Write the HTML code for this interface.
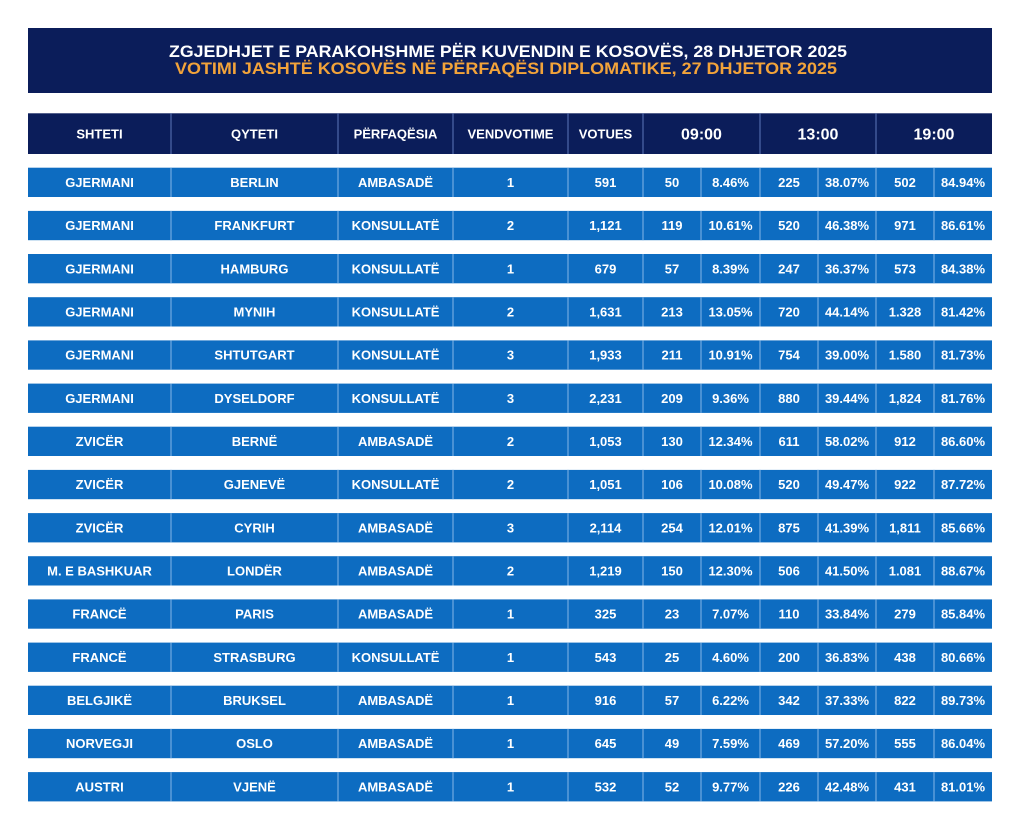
<!DOCTYPE html>
<html><head><meta charset="utf-8"><style>
html,body{margin:0;padding:0;background:#fff;}
svg{display:block;}
text{font-family:"Liberation Sans",Arial,sans-serif;font-weight:bold;fill:#fff;text-anchor:middle;}
.b{font-size:13px;}
.h{font-size:13px;}
.t{font-size:16px;}
</style></head><body>
<svg width="1024" height="832" viewBox="0 0 1024 832" xmlns="http://www.w3.org/2000/svg">
<defs>
<g id="dv" stroke="#6aa6de" stroke-width="1.3">
<line x1="171" y1="0" x2="171" y2="29.3"/><line x1="338" y1="0" x2="338" y2="29.3"/><line x1="453" y1="0" x2="453" y2="29.3"/><line x1="568" y1="0" x2="568" y2="29.3"/><line x1="643" y1="0" x2="643" y2="29.3"/><line x1="701" y1="0" x2="701" y2="29.3"/><line x1="760" y1="0" x2="760" y2="29.3"/><line x1="818" y1="0" x2="818" y2="29.3"/><line x1="876" y1="0" x2="876" y2="29.3"/><line x1="934" y1="0" x2="934" y2="29.3"/>
</g>
<rect id="rb" x="28" y="0" width="964" height="29.3" fill="#0d6cc1"/>
</defs>
<rect width="1024" height="832" fill="#fff"/>
<rect x="28" y="28" width="964" height="65" fill="#0b1d5a"/>
<text x="508" y="57" style="font-size:16.5px" textLength="678" lengthAdjust="spacingAndGlyphs">ZGJEDHJET E PARAKOHSHME PËR KUVENDIN E KOSOVËS, 28 DHJETOR 2025</text>
<text x="506" y="74" style="font-size:16.5px;fill:#f2a33a" textLength="662" lengthAdjust="spacingAndGlyphs">VOTIMI JASHTË KOSOVËS NË PËRFAQËSI DIPLOMATIKE, 27 DHJETOR 2025</text>

<rect x="28" y="113.3" width="964" height="40.7" fill="#0b1d5a"/>
<g stroke="#4a62a3" stroke-width="1.3">
<line x1="171" y1="113.3" x2="171" y2="154"/><line x1="338" y1="113.3" x2="338" y2="154"/><line x1="453" y1="113.3" x2="453" y2="154"/><line x1="568" y1="113.3" x2="568" y2="154"/><line x1="643" y1="113.3" x2="643" y2="154"/><line x1="760" y1="113.3" x2="760" y2="154"/><line x1="876" y1="113.3" x2="876" y2="154"/>
</g>
<text class="h" x="99.5" y="138.3">SHTETI</text>
<text class="h" x="254.5" y="138.3">QYTETI</text>
<text class="h" x="395.5" y="138.3">PËRFAQËSIA</text>
<text class="h" x="510.5" y="138.3">VENDVOTIME</text>
<text class="h" x="605.5" y="138.3">VOTUES</text>
<text class="t" x="701.5" y="139.3">09:00</text>
<text class="t" x="818" y="139.3">13:00</text>
<text class="t" x="934" y="139.3">19:00</text>

<g transform="translate(0,167.7)"><use href="#rb"/><use href="#dv"/>
<text class="b" x="99.5" y="19.3">GJERMANI</text><text class="b" x="254.5" y="19.3">BERLIN</text><text class="b" x="395.5" y="19.3">AMBASADË</text><text class="b" x="510.5" y="19.3">1</text><text class="b" x="605.5" y="19.3">591</text><text class="b" x="672" y="19.3">50</text><text class="b" x="730.5" y="19.3">8.46%</text><text class="b" x="789" y="19.3">225</text><text class="b" x="847" y="19.3">38.07%</text><text class="b" x="905" y="19.3">502</text><text class="b" x="963" y="19.3">84.94%</text></g>

<g transform="translate(0,210.9)"><use href="#rb"/><use href="#dv"/>
<text class="b" x="99.5" y="19.3">GJERMANI</text><text class="b" x="254.5" y="19.3">FRANKFURT</text><text class="b" x="395.5" y="19.3">KONSULLATË</text><text class="b" x="510.5" y="19.3">2</text><text class="b" x="605.5" y="19.3">1,121</text><text class="b" x="672" y="19.3">119</text><text class="b" x="730.5" y="19.3">10.61%</text><text class="b" x="789" y="19.3">520</text><text class="b" x="847" y="19.3">46.38%</text><text class="b" x="905" y="19.3">971</text><text class="b" x="963" y="19.3">86.61%</text></g>

<g transform="translate(0,254.0)"><use href="#rb"/><use href="#dv"/>
<text class="b" x="99.5" y="19.3">GJERMANI</text><text class="b" x="254.5" y="19.3">HAMBURG</text><text class="b" x="395.5" y="19.3">KONSULLATË</text><text class="b" x="510.5" y="19.3">1</text><text class="b" x="605.5" y="19.3">679</text><text class="b" x="672" y="19.3">57</text><text class="b" x="730.5" y="19.3">8.39%</text><text class="b" x="789" y="19.3">247</text><text class="b" x="847" y="19.3">36.37%</text><text class="b" x="905" y="19.3">573</text><text class="b" x="963" y="19.3">84.38%</text></g>

<g transform="translate(0,297.2)"><use href="#rb"/><use href="#dv"/>
<text class="b" x="99.5" y="19.3">GJERMANI</text><text class="b" x="254.5" y="19.3">MYNIH</text><text class="b" x="395.5" y="19.3">KONSULLATË</text><text class="b" x="510.5" y="19.3">2</text><text class="b" x="605.5" y="19.3">1,631</text><text class="b" x="672" y="19.3">213</text><text class="b" x="730.5" y="19.3">13.05%</text><text class="b" x="789" y="19.3">720</text><text class="b" x="847" y="19.3">44.14%</text><text class="b" x="905" y="19.3">1.328</text><text class="b" x="963" y="19.3">81.42%</text></g>

<g transform="translate(0,340.4)"><use href="#rb"/><use href="#dv"/>
<text class="b" x="99.5" y="19.3">GJERMANI</text><text class="b" x="254.5" y="19.3">SHTUTGART</text><text class="b" x="395.5" y="19.3">KONSULLATË</text><text class="b" x="510.5" y="19.3">3</text><text class="b" x="605.5" y="19.3">1,933</text><text class="b" x="672" y="19.3">211</text><text class="b" x="730.5" y="19.3">10.91%</text><text class="b" x="789" y="19.3">754</text><text class="b" x="847" y="19.3">39.00%</text><text class="b" x="905" y="19.3">1.580</text><text class="b" x="963" y="19.3">81.73%</text></g>

<g transform="translate(0,383.6)"><use href="#rb"/><use href="#dv"/>
<text class="b" x="99.5" y="19.3">GJERMANI</text><text class="b" x="254.5" y="19.3">DYSELDORF</text><text class="b" x="395.5" y="19.3">KONSULLATË</text><text class="b" x="510.5" y="19.3">3</text><text class="b" x="605.5" y="19.3">2,231</text><text class="b" x="672" y="19.3">209</text><text class="b" x="730.5" y="19.3">9.36%</text><text class="b" x="789" y="19.3">880</text><text class="b" x="847" y="19.3">39.44%</text><text class="b" x="905" y="19.3">1,824</text><text class="b" x="963" y="19.3">81.76%</text></g>

<g transform="translate(0,426.7)"><use href="#rb"/><use href="#dv"/>
<text class="b" x="99.5" y="19.3">ZVICËR</text><text class="b" x="254.5" y="19.3">BERNË</text><text class="b" x="395.5" y="19.3">AMBASADË</text><text class="b" x="510.5" y="19.3">2</text><text class="b" x="605.5" y="19.3">1,053</text><text class="b" x="672" y="19.3">130</text><text class="b" x="730.5" y="19.3">12.34%</text><text class="b" x="789" y="19.3">611</text><text class="b" x="847" y="19.3">58.02%</text><text class="b" x="905" y="19.3">912</text><text class="b" x="963" y="19.3">86.60%</text></g>

<g transform="translate(0,469.9)"><use href="#rb"/><use href="#dv"/>
<text class="b" x="99.5" y="19.3">ZVICËR</text><text class="b" x="254.5" y="19.3">GJENEVË</text><text class="b" x="395.5" y="19.3">KONSULLATË</text><text class="b" x="510.5" y="19.3">2</text><text class="b" x="605.5" y="19.3">1,051</text><text class="b" x="672" y="19.3">106</text><text class="b" x="730.5" y="19.3">10.08%</text><text class="b" x="789" y="19.3">520</text><text class="b" x="847" y="19.3">49.47%</text><text class="b" x="905" y="19.3">922</text><text class="b" x="963" y="19.3">87.72%</text></g>

<g transform="translate(0,513.1)"><use href="#rb"/><use href="#dv"/>
<text class="b" x="99.5" y="19.3">ZVICËR</text><text class="b" x="254.5" y="19.3">CYRIH</text><text class="b" x="395.5" y="19.3">AMBASADË</text><text class="b" x="510.5" y="19.3">3</text><text class="b" x="605.5" y="19.3">2,114</text><text class="b" x="672" y="19.3">254</text><text class="b" x="730.5" y="19.3">12.01%</text><text class="b" x="789" y="19.3">875</text><text class="b" x="847" y="19.3">41.39%</text><text class="b" x="905" y="19.3">1,811</text><text class="b" x="963" y="19.3">85.66%</text></g>

<g transform="translate(0,556.2)"><use href="#rb"/><use href="#dv"/>
<text class="b" x="99.5" y="19.3">M. E BASHKUAR</text><text class="b" x="254.5" y="19.3">LONDËR</text><text class="b" x="395.5" y="19.3">AMBASADË</text><text class="b" x="510.5" y="19.3">2</text><text class="b" x="605.5" y="19.3">1,219</text><text class="b" x="672" y="19.3">150</text><text class="b" x="730.5" y="19.3">12.30%</text><text class="b" x="789" y="19.3">506</text><text class="b" x="847" y="19.3">41.50%</text><text class="b" x="905" y="19.3">1.081</text><text class="b" x="963" y="19.3">88.67%</text></g>

<g transform="translate(0,599.4)"><use href="#rb"/><use href="#dv"/>
<text class="b" x="99.5" y="19.3">FRANCË</text><text class="b" x="254.5" y="19.3">PARIS</text><text class="b" x="395.5" y="19.3">AMBASADË</text><text class="b" x="510.5" y="19.3">1</text><text class="b" x="605.5" y="19.3">325</text><text class="b" x="672" y="19.3">23</text><text class="b" x="730.5" y="19.3">7.07%</text><text class="b" x="789" y="19.3">110</text><text class="b" x="847" y="19.3">33.84%</text><text class="b" x="905" y="19.3">279</text><text class="b" x="963" y="19.3">85.84%</text></g>

<g transform="translate(0,642.6)"><use href="#rb"/><use href="#dv"/>
<text class="b" x="99.5" y="19.3">FRANCË</text><text class="b" x="254.5" y="19.3">STRASBURG</text><text class="b" x="395.5" y="19.3">KONSULLATË</text><text class="b" x="510.5" y="19.3">1</text><text class="b" x="605.5" y="19.3">543</text><text class="b" x="672" y="19.3">25</text><text class="b" x="730.5" y="19.3">4.60%</text><text class="b" x="789" y="19.3">200</text><text class="b" x="847" y="19.3">36.83%</text><text class="b" x="905" y="19.3">438</text><text class="b" x="963" y="19.3">80.66%</text></g>

<g transform="translate(0,685.7)"><use href="#rb"/><use href="#dv"/>
<text class="b" x="99.5" y="19.3">BELGJIKË</text><text class="b" x="254.5" y="19.3">BRUKSEL</text><text class="b" x="395.5" y="19.3">AMBASADË</text><text class="b" x="510.5" y="19.3">1</text><text class="b" x="605.5" y="19.3">916</text><text class="b" x="672" y="19.3">57</text><text class="b" x="730.5" y="19.3">6.22%</text><text class="b" x="789" y="19.3">342</text><text class="b" x="847" y="19.3">37.33%</text><text class="b" x="905" y="19.3">822</text><text class="b" x="963" y="19.3">89.73%</text></g>

<g transform="translate(0,728.9)"><use href="#rb"/><use href="#dv"/>
<text class="b" x="99.5" y="19.3">NORVEGJI</text><text class="b" x="254.5" y="19.3">OSLO</text><text class="b" x="395.5" y="19.3">AMBASADË</text><text class="b" x="510.5" y="19.3">1</text><text class="b" x="605.5" y="19.3">645</text><text class="b" x="672" y="19.3">49</text><text class="b" x="730.5" y="19.3">7.59%</text><text class="b" x="789" y="19.3">469</text><text class="b" x="847" y="19.3">57.20%</text><text class="b" x="905" y="19.3">555</text><text class="b" x="963" y="19.3">86.04%</text></g>

<g transform="translate(0,772.1)"><use href="#rb"/><use href="#dv"/>
<text class="b" x="99.5" y="19.3">AUSTRI</text><text class="b" x="254.5" y="19.3">VJENË</text><text class="b" x="395.5" y="19.3">AMBASADË</text><text class="b" x="510.5" y="19.3">1</text><text class="b" x="605.5" y="19.3">532</text><text class="b" x="672" y="19.3">52</text><text class="b" x="730.5" y="19.3">9.77%</text><text class="b" x="789" y="19.3">226</text><text class="b" x="847" y="19.3">42.48%</text><text class="b" x="905" y="19.3">431</text><text class="b" x="963" y="19.3">81.01%</text></g>
</svg>
</body></html>
